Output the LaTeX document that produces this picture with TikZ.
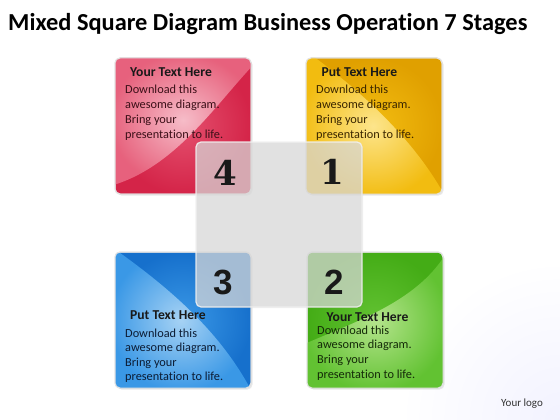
\documentclass[tikz,border=0pt]{standalone}
\usepackage{fontspec}
\setmainfont[Ligatures=NoCommon]{Carlito}
\newfontfamily\numserif{DejaVu Serif}
\newfontfamily\numsans{Liberation Sans}
\usetikzlibrary{shadows}
\definecolor{rdark}{HTML}{D42448}
\definecolor{rmid}{HTML}{E4506E}
\definecolor{rlight}{HTML}{F6BCC8}
\definecolor{ydark}{HTML}{E0A000}
\definecolor{ymid}{HTML}{F2BC10}
\definecolor{ylight}{HTML}{FDE58C}
\definecolor{bdark}{HTML}{1670CC}
\definecolor{bmid}{HTML}{3A98E6}
\definecolor{blight}{HTML}{A6D2F4}
\definecolor{gdark}{HTML}{44AC16}
\definecolor{gmid}{HTML}{62C232}
\definecolor{glight}{HTML}{B4E48C}
\definecolor{rtext}{HTML}{3C1018}
\definecolor{ytext}{HTML}{3A2600}
\definecolor{btext}{HTML}{0C1C34}
\definecolor{gtext}{HTML}{142A08}
\definecolor{midfill}{HTML}{DCDCDC}
\tikzset{
 sq/.style={draw=gray!25, line width=1pt, rounded corners=5pt, minimum width=136pt,
   minimum height=136pt, inner sep=0pt, outer sep=0pt,
   drop shadow={opacity=0.18, shadow xshift=1.5pt, shadow yshift=-1.5pt}},
 sqborder/.style={draw=gray!22, line width=1pt, rounded corners=5pt},
 head/.style={font=\fontsize{13.6}{15}\selectfont\bfseries, anchor=base west, inner sep=0pt, text=black!90},
 body/.style={font=\fontsize{12.3}{15}\selectfont, anchor=base west, inner sep=0pt},
 numA/.style={font=\numserif\bfseries\fontsize{34}{34}\selectfont, text=black!90},
 numB/.style={font=\numsans\bfseries\fontsize{35}{35}\selectfont, text=black!90},
}
\newcommand\boxtext[8]{%
 \node[head] (#1h) at (#2,#3) {#6};
 \node[body,text=#7] (#1a) at (#4,#5) {Download this};
 \node[body,text=#7] (#1b) at (#4,#5+#8) {awesome diagram.};
 \node[body,text=#7] (#1c) at (#4,#5+2*#8) {Bring your};
 \node[body,text=#7] (#1d) at (#4,#5+3*#8) {presentation to life.};
}
\begin{document}
\begin{tikzpicture}[x=1pt,y=-1pt]
\useasboundingbox (0,0) rectangle (560,420);
\fill[white] (0,0) rectangle (560,420);
\begin{scope}
\clip (0,0) rectangle (560,420);
\shade[inner color=blue!5!white, outer color=white] (560,420) circle (160);
\end{scope}

% title
\node[anchor=base west, inner sep=0pt, font=\fontsize{24.4}{26}\selectfont\bfseries] (title) at (8,31)
  {Mixed Square Diagram Business Operation 7 Stages};

% red square
\node[sq, inner color=rmid, outer color=rdark] (red) at (183,126) {};
\begin{scope}
\clip[rounded corners=5pt] (red.north west) rectangle (red.south east);
\shade[inner color=rlight, outer color=rmid!90!white]
  (110,54) -- (256,54) -- (256,62) .. controls (215,105) and (175,168) .. (110,186) -- cycle;
\end{scope}
\draw[sqborder] (red.north west) rectangle (red.south east);

% yellow square
\node[sq, inner color=ymid, outer color=ydark] (yel) at (374,126) {};
\begin{scope}
\clip[rounded corners=5pt] (yel.north west) rectangle (yel.south east);
\shade[inner color=ylight, outer color=ymid]
  (300,54) -- (310,54) .. controls (360,90) and (415,140) .. (446,198) -- (300,198) -- cycle;
\end{scope}
\draw[sqborder] (yel.north west) rectangle (yel.south east);

% blue square
\node[sq, inner color=bmid, outer color=bdark] (blu) at (183,320) {};
\begin{scope}
\clip[rounded corners=5pt] (blu.north west) rectangle (blu.south east);
\shade[inner color=blight, outer color=bmid]
  (110,248) -- (116,250) .. controls (165,285) and (220,330) .. (252,392) -- (110,392) -- cycle;
\end{scope}
\draw[sqborder] (blu.north west) rectangle (blu.south east);

% green square
\node[sq, inner color=gmid, outer color=gdark] (grn) at (375,320) {};
\begin{scope}
\clip[rounded corners=5pt] (grn.north west) rectangle (grn.south east);
\shade[inner color=glight, outer color=gmid]
  (448,250) .. controls (420,300) and (360,320) .. (302,345) -- (302,392) -- (448,392) -- cycle;
\end{scope}
\draw[sqborder] (grn.north west) rectangle (grn.south east);

% texts
\boxtext{rt}{130}{77}{125}{93}{Your Text Here}{rtext}{15}
\boxtext{yt}{321.5}{77}{316}{93}{Put Text Here}{ytext}{15}
\boxtext{bt}{130}{319.5}{125}{337}{Put Text Here}{btext}{14.6}
\boxtext{gt}{326.5}{321}{317}{334}{Your Text Here}{gtext}{14.8}

% central translucent square
\node[draw=white!88!gray, line width=1.2pt, fill=midfill, fill opacity=0.7, draw opacity=0.9,
  rounded corners=5pt, minimum width=166pt, minimum height=165pt, inner sep=0pt,
  drop shadow={opacity=0.12, shadow xshift=1pt, shadow yshift=-1pt}] (mid) at (279,224.5) {};

% numbers
\node[numA] (n4) at (225,172.5) {4};
\node[numA] (n1) at (332,172) {1};
\node[numB] (n3) at (223,282) {3};
\node[numB] (n2) at (334,282) {2};

% logo
\node[font=\fontsize{11}{12}\selectfont, text=black!80] (logo) at (522,404) {Your logo};
\end{tikzpicture}
\end{document}
